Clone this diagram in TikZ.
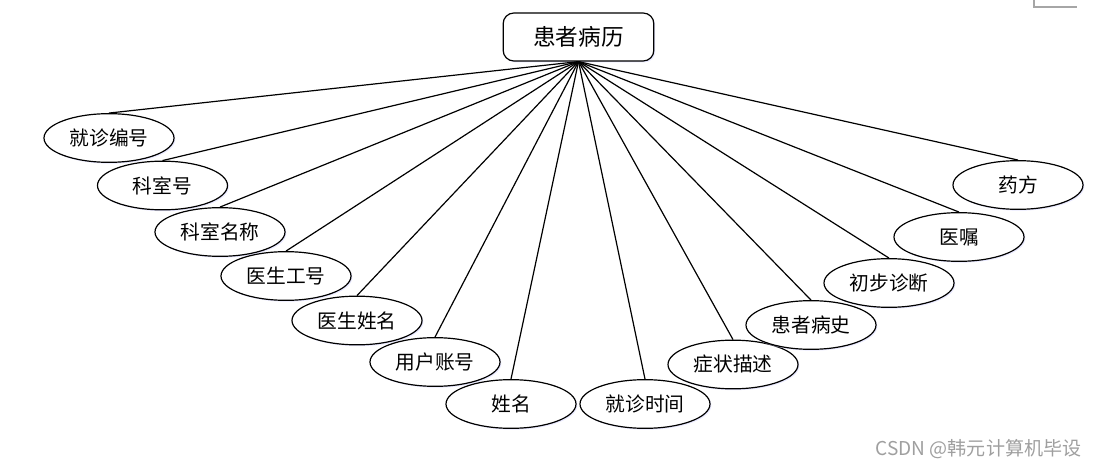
\documentclass[tikz,border=0pt]{standalone}
\usepackage{fontspec}
\setmainfont{Noto Sans CJK SC}
\usetikzlibrary{shapes.geometric,shadows}
\begin{document}
\begin{tikzpicture}[x=0.75pt,y=-0.75pt,
  attr/.style={ellipse, draw, line width=0.9pt, minimum width=97.5pt, minimum height=36.5pt,
    inner sep=0pt, fill=white, font=\fontsize{14.8}{17}\selectfont,
    drop shadow={shadow xshift=1pt, shadow yshift=-1pt, fill=blue!15, opacity=0.6}},
  ent/.style={rectangle, rounded corners=8pt, draw, line width=0.9pt, minimum width=113pt,
    minimum height=36pt, inner sep=0pt, fill=white, font=\fontsize{17}{19}\selectfont,
    drop shadow={shadow xshift=1pt, shadow yshift=-1pt, fill=blue!15, opacity=0.6}},
  link/.style={line width=0.9pt},
  cornerline/.style={draw=gray!70, line width=0.8pt}]
\useasboundingbox (0,0) rectangle (1100,467);
\node[ent] (root) at (578.5,37) {患者病历};
\node[attr] (a1) at (109,138) {就诊编号};
\node[attr] (a2) at (162.5,185.5) {科室号};
\node[attr] (a3) at (220,232) {科室名称};
\node[attr] (a4) at (286,276) {医生工号};
\node[attr] (a5) at (357,320.5) {医生姓名};
\node[attr] (a6) at (435,362) {用户账号};
\node[attr] (a7) at (511,404) {姓名};
\node[attr] (a8) at (645,404) {就诊时间};
\node[attr] (a9) at (733,364.5) {症状描述};
\node[attr] (a10) at (811,325) {患者病史};
\node[attr] (a11) at (889,283) {初步诊断};
\node[attr] (a12) at (959,237) {医嘱};
\node[attr] (a13) at (1018,185) {药方};
\foreach \i in {1,...,13} \draw[link] (root.south) -- (a\i.north);
\coordinate (m1) at (1034,0);
\coordinate (m2) at (1034,7);
\coordinate (m3) at (1077,7);
\draw[cornerline] (m1) -- (m2) -- (m3);
\node[text=gray!75, font=\fontsize{14.3}{16}\selectfont, inner sep=0pt] (wm) at (978.5,449) {CSDN @韩元计算机毕设};
\end{tikzpicture}
\end{document}
